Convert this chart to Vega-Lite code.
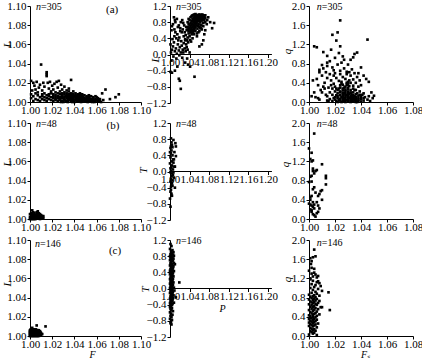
{
"$schema":"https://vega.github.io/schema/vega-lite/v6.json",
"padding":{"left":1,"top":0,"right":0,"bottom":0},
"config":{
 "font":"Liberation Serif",
 "view":{"stroke":null},
 "axis":{"labelFont":"Liberation Serif","labelFontSize":11,"labelColor":"black","domainColor":"black","tickColor":"black","tickSize":3,"labelPadding":2,"grid":false,"labelOverlap":false,"labelFlush":false,"labelBound":false,"titleFont":"Liberation Serif","titleFontSize":11,"titleFontStyle":"italic","titleFontWeight":"normal","titleColor":"black","titleBaseline":"middle"},
 "axisX":{"labelPadding":-1,"titleFontSize":10},
 "axisY":{"labelPadding":1},
 "text":{"font":"Liberation Serif","color":"black"}
},
"datasets":{
"a":[
{"F":1.001,"L":1.022,"P":1.040,"T":0.72,"S":1.018,"q":0.02},
{"F":1.003,"L":1.020,"P":1.040,"T":0.85,"S":1.018,"q":0.15},
{"F":1.004,"L":1.017,"P":1.040,"T":0.66,"S":1.018,"q":0.28},
{"F":1.006,"L":1.021,"P":1.042,"T":0.78,"S":1.020,"q":0.05},
{"F":1.008,"L":1.015,"P":1.042,"T":0.92,"S":1.020,"q":0.10},
{"F":1.002,"L":1.012,"P":1.042,"T":0.70,"S":1.020,"q":0.22},
{"F":1.005,"L":1.013,"P":1.042,"T":0.60,"S":1.020,"q":0.32},
{"F":1.009,"L":1.018,"P":1.044,"T":0.83,"S":1.022,"q":0.00},
{"F":1.010,"L":1.039,"P":1.044,"T":0.95,"S":1.022,"q":0.08},
{"F":1.011,"L":1.012,"P":1.044,"T":0.74,"S":1.022,"q":0.18},
{"F":1.013,"L":1.016,"P":1.044,"T":0.65,"S":1.022,"q":0.25},
{"F":1.015,"L":1.031,"P":1.046,"T":0.88,"S":1.022,"q":0.12},
{"F":1.015,"L":1.029,"P":1.046,"T":0.76,"S":1.024,"q":0.03},
{"F":1.015,"L":1.027,"P":1.046,"T":0.97,"S":1.024,"q":0.14},
{"F":1.016,"L":1.020,"P":1.046,"T":0.69,"S":1.024,"q":0.20},
{"F":1.017,"L":1.014,"P":1.046,"T":0.82,"S":1.024,"q":0.30},
{"F":1.018,"L":1.021,"P":1.048,"T":0.91,"S":1.024,"q":0.07},
{"F":1.019,"L":1.011,"P":1.048,"T":0.80,"S":1.024,"q":0.35},
{"F":1.020,"L":1.017,"P":1.048,"T":0.86,"S":1.026,"q":0.01},
{"F":1.021,"L":1.013,"P":1.048,"T":0.72,"S":1.026,"q":0.09},
{"F":1.022,"L":1.019,"P":1.048,"T":0.98,"S":1.026,"q":0.16},
{"F":1.024,"L":1.021,"P":1.050,"T":0.94,"S":1.026,"q":0.24},
{"F":1.025,"L":1.015,"P":1.050,"T":0.84,"S":1.026,"q":0.05},
{"F":1.026,"L":1.022,"P":1.050,"T":0.89,"S":1.026,"q":0.28},
{"F":1.027,"L":1.011,"P":1.050,"T":0.77,"S":1.026,"q":0.12},
{"F":1.028,"L":1.018,"P":1.050,"T":0.99,"S":1.028,"q":0.04},
{"F":1.029,"L":1.013,"P":1.050,"T":0.70,"S":1.028,"q":0.11},
{"F":1.031,"L":1.016,"P":1.052,"T":0.87,"S":1.028,"q":0.19},
{"F":1.033,"L":1.012,"P":1.052,"T":0.96,"S":1.028,"q":0.00},
{"F":1.035,"L":1.014,"P":1.052,"T":0.81,"S":1.028,"q":0.26},
{"F":1.037,"L":1.023,"P":1.052,"T":0.92,"S":1.028,"q":0.08},
{"F":1.039,"L":1.011,"P":1.052,"T":0.75,"S":1.028,"q":0.15},
{"F":1.012,"L":1.020,"P":1.052,"T":1.00,"S":1.030,"q":0.02},
{"F":1.007,"L":1.010,"P":1.054,"T":0.90,"S":1.030,"q":0.13},
{"F":1.023,"L":1.010,"P":1.054,"T":0.83,"S":1.030,"q":0.06},
{"F":1.080,"L":1.008,"P":1.054,"T":0.97,"S":1.030,"q":0.21},
{"F":1.077,"L":1.005,"P":1.054,"T":0.79,"S":1.030,"q":0.10},
{"F":1.068,"L":1.013,"P":1.054,"T":0.93,"S":1.030,"q":0.30},
{"F":1.072,"L":1.003,"P":1.056,"T":0.95,"S":1.030,"q":0.17},
{"F":1.065,"L":1.009,"P":1.056,"T":0.86,"S":1.032,"q":0.05},
{"F":1.001,"L":1.004,"P":1.056,"T":0.91,"S":1.032,"q":0.00},
{"F":1.001,"L":1.008,"P":1.056,"T":0.82,"S":1.032,"q":0.12},
{"F":1.003,"L":1.001,"P":1.056,"T":0.98,"S":1.032,"q":0.18},
{"F":1.003,"L":1.006,"P":1.056,"T":0.88,"S":1.032,"q":0.08},
{"F":1.005,"L":1.003,"P":1.058,"T":0.92,"S":1.032,"q":0.25},
{"F":1.005,"L":1.009,"P":1.058,"T":0.97,"S":1.032,"q":0.03},
{"F":1.007,"L":1.002,"P":1.058,"T":0.85,"S":1.034,"q":0.01},
{"F":1.007,"L":1.007,"P":1.058,"T":0.89,"S":1.034,"q":0.09},
{"F":1.009,"L":1.005,"P":1.058,"T":0.94,"S":1.034,"q":0.14},
{"F":1.009,"L":1.001,"P":1.060,"T":0.96,"S":1.034,"q":0.06},
{"F":1.011,"L":1.008,"P":1.060,"T":0.90,"S":1.034,"q":0.20},
{"F":1.011,"L":1.003,"P":1.060,"T":0.87,"S":1.034,"q":0.11},
{"F":1.011,"L":1.006,"P":1.060,"T":0.99,"S":1.036,"q":0.04},
{"F":1.013,"L":1.002,"P":1.060,"T":0.93,"S":1.036,"q":0.00},
{"F":1.013,"L":1.009,"P":1.062,"T":0.94,"S":1.036,"q":0.10},
{"F":1.013,"L":1.005,"P":1.062,"T":0.88,"S":1.036,"q":0.16},
{"F":1.015,"L":1.004,"P":1.062,"T":0.98,"S":1.036,"q":0.07},
{"F":1.015,"L":1.007,"P":1.062,"T":0.91,"S":1.038,"q":0.02},
{"F":1.015,"L":1.001,"P":1.064,"T":0.97,"S":1.038,"q":0.08},
{"F":1.017,"L":1.003,"P":1.064,"T":0.92,"S":1.038,"q":0.13},
{"F":1.017,"L":1.008,"P":1.064,"T":0.86,"S":1.038,"q":0.05},
{"F":1.017,"L":1.006,"P":1.064,"T":0.95,"S":1.040,"q":0.01},
{"F":1.019,"L":1.005,"P":1.066,"T":0.90,"S":1.040,"q":0.06},
{"F":1.019,"L":1.002,"P":1.066,"T":0.96,"S":1.040,"q":0.10},
{"F":1.019,"L":1.009,"P":1.066,"T":0.93,"S":1.042,"q":0.03},
{"F":1.021,"L":1.001,"P":1.066,"T":0.99,"S":1.042,"q":0.08},
{"F":1.021,"L":1.006,"P":1.068,"T":0.94,"S":1.016,"q":0.06},
{"F":1.021,"L":1.004,"P":1.068,"T":0.88,"S":1.016,"q":0.20},
{"F":1.021,"L":1.008,"P":1.068,"T":0.97,"S":1.014,"q":0.03},
{"F":1.023,"L":1.003,"P":1.070,"T":0.92,"S":1.014,"q":0.12},
{"F":1.023,"L":1.007,"P":1.070,"T":0.95,"S":1.025,"q":0.42},
{"F":1.023,"L":1.005,"P":1.072,"T":0.90,"S":1.025,"q":0.38},
{"F":1.023,"L":1.002,"P":1.072,"T":0.97,"S":1.029,"q":0.36},
{"F":1.025,"L":1.009,"P":1.036,"T":0.68,"S":1.029,"q":0.40},
{"F":1.025,"L":1.004,"P":1.036,"T":0.80,"S":1.031,"q":0.33},
{"F":1.025,"L":1.001,"P":1.036,"T":0.62,"S":1.031,"q":0.45},
{"F":1.025,"L":1.006,"P":1.038,"T":0.75,"S":1.027,"q":0.02},
{"F":1.027,"L":1.002,"P":1.038,"T":0.58,"S":1.027,"q":0.18},
{"F":1.027,"L":1.008,"P":1.038,"T":0.88,"S":1.033,"q":0.15},
{"F":1.027,"L":1.005,"P":1.030,"T":0.55,"S":1.033,"q":0.05},
{"F":1.027,"L":1.003,"P":1.032,"T":0.48,"S":1.035,"q":0.03},
{"F":1.029,"L":1.007,"P":1.034,"T":0.60,"S":1.035,"q":0.25},
{"F":1.029,"L":1.004,"P":1.036,"T":0.42,"S":1.003,"q":0.45},
{"F":1.029,"L":1.001,"P":1.038,"T":0.52,"S":1.005,"q":0.10},
{"F":1.029,"L":1.009,"P":1.040,"T":0.45,"S":1.006,"q":0.48},
{"F":1.029,"L":1.006,"P":1.042,"T":0.55,"S":1.007,"q":0.35},
{"F":1.031,"L":1.003,"P":1.044,"T":0.50,"S":1.008,"q":0.62},
{"F":1.031,"L":1.005,"P":1.035,"T":0.35,"S":1.009,"q":0.25},
{"F":1.031,"L":1.008,"P":1.031,"T":0.38,"S":1.010,"q":0.55},
{"F":1.031,"L":1.002,"P":1.028,"T":0.45,"S":1.011,"q":0.70},
{"F":1.031,"L":1.010,"P":1.026,"T":0.62,"S":1.012,"q":0.40},
{"F":1.033,"L":1.006,"P":1.033,"T":0.68,"S":1.013,"q":0.15},
{"F":1.033,"L":1.001,"P":1.029,"T":0.72,"S":1.014,"q":0.75},
{"F":1.033,"L":1.004,"P":1.027,"T":0.78,"S":1.015,"q":0.30},
{"F":1.033,"L":1.009,"P":1.025,"T":0.85,"S":1.016,"q":0.58},
{"F":1.033,"L":1.007,"P":1.022,"T":0.80,"S":1.017,"q":0.45},
{"F":1.035,"L":1.002,"P":1.037,"T":0.30,"S":1.018,"q":0.72},
{"F":1.035,"L":1.005,"P":1.041,"T":0.36,"S":1.019,"q":0.38},
{"F":1.035,"L":1.008,"P":1.046,"T":0.40,"S":1.020,"q":0.60},
{"F":1.035,"L":1.003,"P":1.048,"T":0.58,"S":1.021,"q":0.50},
{"F":1.035,"L":1.006,"P":1.050,"T":0.62,"S":1.022,"q":0.78},
{"F":1.035,"L":1.011,"P":1.047,"T":0.52,"S":1.023,"q":0.44},
{"F":1.037,"L":1.004,"P":1.024,"T":0.55,"S":1.024,"q":0.65},
{"F":1.037,"L":1.001,"P":1.021,"T":0.65,"S":1.026,"q":0.52},
{"F":1.037,"L":1.007,"P":1.018,"T":0.72,"S":1.027,"q":0.70},
{"F":1.037,"L":1.009,"P":1.039,"T":0.64,"S":1.028,"q":0.48},
{"F":1.037,"L":1.005,"P":1.043,"T":0.32,"S":1.029,"q":0.58},
{"F":1.037,"L":1.003,"P":1.033,"T":0.25,"S":1.030,"q":0.42},
{"F":1.039,"L":1.006,"P":1.045,"T":0.60,"S":1.031,"q":0.62},
{"F":1.039,"L":1.002,"P":1.002,"T":0.05,"S":1.032,"q":0.55},
{"F":1.039,"L":1.008,"P":1.004,"T":0.12,"S":1.033,"q":0.68},
{"F":1.039,"L":1.004,"P":1.006,"T":0.20,"S":1.034,"q":0.47},
{"F":1.039,"L":1.001,"P":1.008,"T":0.30,"S":1.035,"q":0.60},
{"F":1.041,"L":1.003,"P":1.010,"T":0.08,"S":1.036,"q":0.40},
{"F":1.041,"L":1.005,"P":1.012,"T":0.15,"S":1.037,"q":0.52},
{"F":1.041,"L":1.009,"P":1.014,"T":0.02,"S":1.038,"q":0.32},
{"F":1.041,"L":1.007,"P":1.016,"T":0.25,"S":1.039,"q":0.22},
{"F":1.041,"L":1.002,"P":1.018,"T":0.10,"S":1.040,"q":0.35},
{"F":1.041,"L":1.006,"P":1.020,"T":0.18,"S":1.041,"q":0.15},
{"F":1.043,"L":1.001,"P":1.022,"T":0.05,"S":1.043,"q":0.10},
{"F":1.043,"L":1.004,"P":1.024,"T":0.22,"S":1.044,"q":0.48},
{"F":1.043,"L":1.008,"P":1.026,"T":0.12,"S":1.045,"q":0.05},
{"F":1.043,"L":1.003,"P":1.028,"T":0.28,"S":1.046,"q":0.12},
{"F":1.043,"L":1.006,"P":1.030,"T":0.15,"S":1.048,"q":0.20},
{"F":1.045,"L":1.005,"P":1.032,"T":0.08,"S":1.049,"q":0.08},
{"F":1.045,"L":1.002,"P":1.034,"T":0.18,"S":1.050,"q":0.13},
{"F":1.045,"L":1.007,"P":1.005,"T":0.38,"S":1.047,"q":0.02},
{"F":1.045,"L":1.004,"P":1.009,"T":0.45,"S":1.010,"q":0.20},
{"F":1.045,"L":1.009,"P":1.013,"T":0.40,"S":1.012,"q":0.28},
{"F":1.045,"L":1.001,"P":1.017,"T":0.35,"S":1.008,"q":0.05},
{"F":1.047,"L":1.003,"P":1.011,"T":0.55,"S":1.015,"q":0.02},
{"F":1.047,"L":1.006,"P":1.015,"T":0.50,"S":1.017,"q":0.35},
{"F":1.047,"L":1.001,"P":1.019,"T":0.42,"S":1.019,"q":0.55},
{"F":1.047,"L":1.005,"P":1.023,"T":0.33,"S":1.021,"q":0.28},
{"F":1.047,"L":1.008,"P":1.007,"T":-0.05,"S":1.014,"q":0.50},
{"F":1.049,"L":1.004,"P":1.013,"T":-0.10,"S":1.011,"q":0.32},
{"F":1.049,"L":1.002,"P":1.019,"T":-0.02,"S":1.004,"q":0.20},
{"F":1.049,"L":1.007,"P":1.025,"T":-0.08,"S":1.007,"q":0.08},
{"F":1.049,"L":1.003,"P":1.003,"T":-0.15,"S":1.002,"q":0.12},
{"F":1.049,"L":1.001,"P":1.009,"T":0.62,"S":1.036,"q":0.25},
{"F":1.051,"L":1.005,"P":1.021,"T":0.58,"S":1.039,"q":0.45},
{"F":1.051,"L":1.001,"P":1.001,"T":0.25,"S":1.042,"q":0.18},
{"F":1.051,"L":1.003,"P":1.016,"T":0.68,"S":1.024,"q":1.70},
{"F":1.051,"L":1.006,"P":1.027,"T":0.05,"S":1.022,"q":1.45},
{"F":1.051,"L":1.002,"P":1.031,"T":0.35,"S":1.018,"q":1.40},
{"F":1.053,"L":1.002,"P":1.006,"T":0.75,"S":1.021,"q":1.28},
{"F":1.053,"L":1.004,"P":1.011,"T":0.80,"S":1.024,"q":1.16},
{"F":1.053,"L":1.001,"P":1.004,"T":0.70,"S":1.017,"q":1.09},
{"F":1.053,"L":1.007,"P":1.014,"T":0.88,"S":1.004,"q":1.16},
{"F":1.053,"L":1.005,"P":1.008,"T":0.92,"S":1.006,"q":1.14},
{"F":1.055,"L":1.003,"P":1.010,"T":0.85,"S":1.011,"q":1.04},
{"F":1.055,"L":1.001,"P":1.003,"T":0.60,"S":1.014,"q":0.96},
{"F":1.055,"L":1.006,"P":1.036,"T":0.12,"S":1.045,"q":1.30},
{"F":1.055,"L":1.002,"P":1.040,"T":0.05,"S":1.037,"q":1.03},
{"F":1.057,"L":1.004,"P":1.010,"T":-0.40,"S":1.035,"q":1.00},
{"F":1.057,"L":1.002,"P":1.004,"T":-0.45,"S":1.034,"q":0.93},
{"F":1.057,"L":1.001,"P":1.001,"T":-0.43,"S":1.025,"q":0.82},
{"F":1.057,"L":1.005,"P":1.050,"T":-0.55,"S":1.010,"q":0.77},
{"F":1.059,"L":1.001,"P":1.037,"T":-0.25,"S":1.014,"q":0.82},
{"F":1.059,"L":1.003,"P":1.041,"T":-0.30,"S":1.008,"q":0.67},
{"F":1.059,"L":1.006,"P":1.020,"T":-0.65,"S":1.029,"q":0.63},
{"F":1.059,"L":1.002,"P":1.018,"T":-0.60,"S":1.032,"q":0.88},
{"F":1.061,"L":1.002,"P":1.022,"T":-0.85,"S":1.020,"q":0.92},
{"F":1.061,"L":1.004,"P":1.031,"T":-0.20,"S":1.016,"q":0.85},
{"F":1.061,"L":1.001,"P":1.035,"T":-0.10,"S":1.026,"q":0.95},
{"F":1.063,"L":1.003,"P":1.015,"T":-0.30,"S":1.030,"q":0.78},
{"F":1.063,"L":1.001,"P":1.082,"T":0.80,"S":1.023,"q":1.02},
{"F":1.066,"L":1.002,"P":1.086,"T":0.65,"S":1.019,"q":0.66},
{"F":1.030,"L":1.000,"P":1.078,"T":0.92,"S":1.027,"q":0.88},
{"F":1.030,"L":1.004,"P":1.075,"T":0.75,"S":1.013,"q":0.62},
{"F":1.034,"L":1.000,"P":1.072,"T":0.60,"S":1.040,"q":0.72},
{"F":1.034,"L":1.003,"P":1.065,"T":0.25,"S":1.038,"q":0.60},
{"F":1.038,"L":1.000,"P":1.060,"T":0.20,"S":1.042,"q":0.55},
{"F":1.038,"L":1.005,"P":1.068,"T":0.35,"S":1.046,"q":0.42},
{"F":1.042,"L":1.001,"P":1.055,"T":0.45,"S":1.024,"q":0.58},
{"F":1.042,"L":1.004,"P":1.058,"T":0.55,"S":1.028,"q":0.32},
{"F":1.046,"L":1.003,"P":1.062,"T":0.65,"S":1.030,"q":0.38},
{"F":1.046,"L":1.006,"P":1.076,"T":0.85,"S":1.032,"q":0.40},
{"F":1.050,"L":1.003,"P":1.070,"T":0.50,"S":1.034,"q":0.34},
{"F":1.054,"L":1.003,"P":1.090,"T":0.78,"S":1.026,"q":0.36},
{"F":1.032,"L":1.001,"P":1.050,"T":0.66,"S":1.023,"q":0.04},
{"F":1.036,"L":1.004,"P":1.052,"T":0.58,"S":1.025,"q":0.10},
{"F":1.040,"L":1.000,"P":1.054,"T":0.72,"S":1.027,"q":0.06},
{"F":1.044,"L":1.002,"P":1.056,"T":0.64,"S":1.029,"q":0.14},
{"F":1.048,"L":1.005,"P":1.058,"T":0.76,"S":1.031,"q":0.09},
{"F":1.052,"L":1.000,"P":1.060,"T":0.68,"S":1.033,"q":0.02},
{"F":1.056,"L":1.003,"P":1.062,"T":0.80,"S":1.035,"q":0.12},
{"F":1.058,"L":1.000,"P":1.064,"T":0.72,"S":1.024,"q":0.22},
{"F":1.060,"L":1.005,"P":1.066,"T":0.84,"S":1.028,"q":0.23},
{"F":1.044,"L":1.008,"P":1.068,"T":0.78,"S":1.030,"q":0.26},
{"F":1.040,"L":1.006,"P":1.070,"T":0.86,"S":1.032,"q":0.20},
{"F":1.036,"L":1.002,"P":1.055,"T":0.52,"S":1.026,"q":0.19},
{"F":1.048,"L":1.002,"P":1.060,"T":0.58,"S":1.021,"q":0.14},
{"F":1.052,"L":1.004,"P":1.065,"T":0.62,"S":1.019,"q":0.08},
{"F":1.042,"L":1.003,"P":1.068,"T":0.70,"S":1.037,"q":0.18},
{"F":1.038,"L":1.007,"P":1.072,"T":0.80,"S":1.034,"q":0.28},
{"F":1.034,"L":1.005,"P":1.048,"T":0.64,"S":1.029,"q":0.04},
{"F":1.046,"L":1.000,"P":1.046,"T":0.56,"S":1.031,"q":0.17},
{"F":1.050,"L":1.001,"P":1.044,"T":0.58,"S":1.023,"q":0.28},
{"F":1.054,"L":1.006,"P":1.052,"T":0.68,"S":1.027,"q":0.30},
{"F":1.028,"L":1.000,"P":1.057,"T":0.70,"S":1.025,"q":0.00},
{"F":1.026,"L":1.004,"P":1.062,"T":0.74,"S":1.033,"q":0.10},
{"F":1.032,"L":1.006,"P":1.059,"T":0.83,"S":1.035,"q":0.07},
{"F":1.056,"L":1.000,"P":1.063,"T":0.66,"S":1.037,"q":0.00},
{"F":1.062,"L":1.003,"P":1.053,"T":0.78,"S":1.039,"q":0.15},
{"F":1.064,"L":1.000,"P":1.049,"T":0.50,"S":1.021,"q":0.02}
],
"b":[
{"F":1.001,"L":1.001,"P":1.002,"T":0.82,"S":1.004,"q":1.78},
{"F":1.002,"L":1.003,"P":1.007,"T":0.78,"S":1.000,"q":1.47},
{"F":1.003,"L":1.000,"P":1.004,"T":0.66,"S":1.002,"q":1.38},
{"F":1.004,"L":1.002,"P":1.011,"T":0.70,"S":1.001,"q":1.25},
{"F":1.005,"L":1.004,"P":1.012,"T":0.62,"S":1.003,"q":1.22},
{"F":1.006,"L":1.001,"P":1.001,"T":0.58,"S":1.002,"q":1.20},
{"F":1.007,"L":1.003,"P":1.003,"T":0.52,"S":1.010,"q":1.14},
{"F":1.008,"L":1.006,"P":1.002,"T":0.45,"S":1.003,"q":1.05},
{"F":1.009,"L":1.002,"P":1.005,"T":0.40,"S":1.005,"q":1.00},
{"F":1.010,"L":1.004,"P":1.001,"T":0.35,"S":1.004,"q":0.95},
{"F":1.011,"L":1.001,"P":1.012,"T":0.38,"S":1.002,"q":0.90},
{"F":1.012,"L":1.003,"P":1.008,"T":0.30,"S":1.001,"q":0.88},
{"F":1.000,"L":1.005,"P":1.007,"T":0.22,"S":1.013,"q":0.90},
{"F":1.001,"L":1.003,"P":1.004,"T":0.15,"S":1.013,"q":0.85},
{"F":1.002,"L":1.000,"P":1.003,"T":0.10,"S":1.000,"q":0.77},
{"F":1.003,"L":1.002,"P":1.009,"T":0.12,"S":1.002,"q":0.78},
{"F":1.004,"L":1.004,"P":1.010,"T":0.12,"S":1.013,"q":0.72},
{"F":1.005,"L":1.001,"P":1.006,"T":0.05,"S":1.004,"q":0.66},
{"F":1.006,"L":1.007,"P":1.002,"T":0.02,"S":1.010,"q":0.60},
{"F":1.007,"L":1.005,"P":1.001,"T":-0.02,"S":1.009,"q":0.58},
{"F":1.008,"L":1.002,"P":1.004,"T":-0.05,"S":1.003,"q":0.62},
{"F":1.009,"L":1.000,"P":1.006,"T":-0.08,"S":1.008,"q":0.52},
{"F":1.010,"L":1.001,"P":1.003,"T":-0.12,"S":1.010,"q":0.40},
{"F":1.000,"L":1.002,"P":1.008,"T":-0.15,"S":1.002,"q":0.48},
{"F":1.001,"L":1.006,"P":1.002,"T":-0.18,"S":1.001,"q":0.45},
{"F":1.002,"L":1.002,"P":1.005,"T":-0.22,"S":1.003,"q":0.35},
{"F":1.003,"L":1.004,"P":1.001,"T":-0.25,"S":1.000,"q":0.32},
{"F":1.004,"L":1.000,"P":1.004,"T":-0.28,"S":1.001,"q":0.30},
{"F":1.005,"L":1.003,"P":1.003,"T":-0.32,"S":1.002,"q":0.28},
{"F":1.006,"L":1.005,"P":1.010,"T":-0.40,"S":1.003,"q":0.25},
{"F":1.007,"L":1.008,"P":1.002,"T":-0.45,"S":1.004,"q":0.22},
{"F":1.008,"L":1.001,"P":1.001,"T":-0.50,"S":1.001,"q":0.20},
{"F":1.009,"L":1.003,"P":1.003,"T":-0.55,"S":1.002,"q":0.18},
{"F":1.002,"L":1.009,"P":1.000,"T":-0.67,"S":1.004,"q":0.30},
{"F":1.003,"L":1.007,"P":1.001,"T":-0.87,"S":1.007,"q":0.28},
{"F":1.000,"L":1.000,"P":1.002,"T":0.62,"S":1.008,"q":0.22},
{"F":1.001,"L":1.000,"P":1.005,"T":0.60,"S":1.007,"q":0.15},
{"F":1.004,"L":1.006,"P":1.000,"T":0.48,"S":1.006,"q":0.12},
{"F":1.006,"L":1.002,"P":1.006,"T":0.30,"S":1.004,"q":0.08},
{"F":1.007,"L":1.001,"P":1.004,"T":0.25,"S":1.005,"q":0.05},
{"F":1.008,"L":1.004,"P":1.001,"T":0.08,"S":1.003,"q":0.10},
{"F":1.010,"L":1.002,"P":1.007,"T":-0.02,"S":1.007,"q":0.48},
{"F":1.011,"L":1.003,"P":1.005,"T":-0.35,"S":1.005,"q":0.55},
{"F":1.005,"L":1.000,"P":1.002,"T":-0.38,"S":1.006,"q":1.02},
{"F":1.003,"L":1.001,"P":1.000,"T":0.20,"S":1.003,"q":1.00},
{"F":1.002,"L":1.005,"P":1.009,"T":0.48,"S":1.001,"q":0.40},
{"F":1.009,"L":1.005,"P":1.003,"T":0.72,"S":1.006,"q":0.35},
{"F":1.012,"L":1.001,"P":1.004,"T":-0.60,"S":1.002,"q":0.15}
],
"c":[
{"F":1.000,"L":1.000,"P":1.001,"T":1.10,"S":1.004,"q":1.80},
{"F":1.001,"L":1.002,"P":1.003,"T":1.05,"S":1.003,"q":1.64},
{"F":1.002,"L":1.004,"P":1.000,"T":0.98,"S":1.001,"q":1.62},
{"F":1.003,"L":1.006,"P":1.005,"T":0.95,"S":1.002,"q":1.56},
{"F":1.004,"L":1.001,"P":1.002,"T":0.92,"S":1.0015,"q":1.50},
{"F":1.005,"L":1.003,"P":1.007,"T":0.90,"S":1.005,"q":1.66},
{"F":1.006,"L":1.005,"P":1.004,"T":0.88,"S":1.000,"q":1.36},
{"F":1.007,"L":1.000,"P":1.001,"T":0.85,"S":1.002,"q":1.30},
{"F":1.008,"L":1.002,"P":1.006,"T":0.84,"S":1.005,"q":1.28},
{"F":1.009,"L":1.004,"P":1.003,"T":0.82,"S":1.003,"q":1.24},
{"F":1.000,"L":1.006,"P":1.008,"T":0.81,"S":1.006,"q":1.22},
{"F":1.001,"L":1.001,"P":1.000,"T":0.80,"S":1.001,"q":1.20},
{"F":1.002,"L":1.003,"P":1.002,"T":0.78,"S":1.004,"q":1.32},
{"F":1.003,"L":1.005,"P":1.005,"T":0.77,"S":1.007,"q":1.25},
{"F":1.004,"L":1.000,"P":1.001,"T":0.75,"S":1.002,"q":1.42},
{"F":1.005,"L":1.002,"P":1.007,"T":0.74,"S":1.004,"q":1.40},
{"F":1.006,"L":1.004,"P":1.003,"T":0.72,"S":1.001,"q":1.18},
{"F":1.007,"L":1.006,"P":1.000,"T":0.70,"S":1.003,"q":1.15},
{"F":1.008,"L":1.001,"P":1.006,"T":0.69,"S":1.006,"q":1.12},
{"F":1.009,"L":1.003,"P":1.004,"T":0.67,"S":1.008,"q":1.10},
{"F":1.000,"L":1.005,"P":1.002,"T":0.65,"S":1.002,"q":1.08},
{"F":1.001,"L":1.000,"P":1.008,"T":0.63,"S":1.005,"q":1.06},
{"F":1.002,"L":1.002,"P":1.001,"T":0.62,"S":1.009,"q":1.04},
{"F":1.003,"L":1.004,"P":1.005,"T":0.60,"S":1.004,"q":1.02},
{"F":1.004,"L":1.006,"P":1.003,"T":0.58,"S":1.001,"q":1.00},
{"F":1.005,"L":1.001,"P":1.000,"T":0.57,"S":1.007,"q":0.98},
{"F":1.006,"L":1.003,"P":1.007,"T":0.55,"S":1.003,"q":0.96},
{"F":1.007,"L":1.005,"P":1.002,"T":0.53,"S":1.010,"q":0.94},
{"F":1.008,"L":1.000,"P":1.004,"T":0.52,"S":1.005,"q":0.92},
{"F":1.009,"L":1.002,"P":1.006,"T":0.50,"S":1.002,"q":0.90},
{"F":1.000,"L":1.004,"P":1.001,"T":0.48,"S":1.006,"q":0.88},
{"F":1.001,"L":1.006,"P":1.003,"T":0.47,"S":1.000,"q":0.86},
{"F":1.002,"L":1.001,"P":1.005,"T":0.45,"S":1.004,"q":0.85},
{"F":1.003,"L":1.003,"P":1.000,"T":0.44,"S":1.008,"q":0.84},
{"F":1.004,"L":1.005,"P":1.008,"T":0.43,"S":1.003,"q":0.83},
{"F":1.005,"L":1.000,"P":1.002,"T":0.42,"S":1.001,"q":0.82},
{"F":1.006,"L":1.002,"P":1.004,"T":0.40,"S":1.005,"q":0.81},
{"F":1.007,"L":1.004,"P":1.001,"T":0.39,"S":1.007,"q":1.14},
{"F":1.008,"L":1.006,"P":1.006,"T":0.38,"S":1.002,"q":0.79},
{"F":1.000,"L":1.001,"P":1.003,"T":0.36,"S":1.004,"q":0.78},
{"F":1.001,"L":1.003,"P":1.000,"T":0.35,"S":1.006,"q":0.77},
{"F":1.002,"L":1.005,"P":1.005,"T":0.33,"S":1.000,"q":0.76},
{"F":1.003,"L":1.000,"P":1.002,"T":0.32,"S":1.003,"q":0.75},
{"F":1.004,"L":1.002,"P":1.007,"T":0.30,"S":1.005,"q":0.74},
{"F":1.005,"L":1.004,"P":1.004,"T":0.29,"S":1.008,"q":0.73},
{"F":1.006,"L":1.006,"P":1.001,"T":0.27,"S":1.001,"q":0.72},
{"F":1.007,"L":1.001,"P":1.003,"T":0.26,"S":1.004,"q":0.71},
{"F":1.008,"L":1.003,"P":1.006,"T":0.24,"S":1.002,"q":0.70},
{"F":1.000,"L":1.003,"P":1.000,"T":0.23,"S":1.007,"q":0.69},
{"F":1.001,"L":1.005,"P":1.002,"T":0.21,"S":1.003,"q":0.68},
{"F":1.002,"L":1.000,"P":1.005,"T":0.20,"S":1.005,"q":0.67},
{"F":1.003,"L":1.002,"P":1.004,"T":0.18,"S":1.000,"q":0.66},
{"F":1.004,"L":1.004,"P":1.001,"T":0.17,"S":1.006,"q":0.65},
{"F":1.005,"L":1.006,"P":1.007,"T":0.15,"S":1.002,"q":0.64},
{"F":1.006,"L":1.001,"P":1.003,"T":0.14,"S":1.004,"q":0.62},
{"F":1.007,"L":1.003,"P":1.000,"T":0.12,"S":1.001,"q":0.61},
{"F":1.008,"L":1.005,"P":1.005,"T":0.11,"S":1.003,"q":0.60},
{"F":1.000,"L":1.002,"P":1.002,"T":0.09,"S":1.009,"q":0.60},
{"F":1.001,"L":1.004,"P":1.006,"T":0.08,"S":1.005,"q":0.58},
{"F":1.002,"L":1.006,"P":1.004,"T":0.06,"S":1.002,"q":0.57},
{"F":1.003,"L":1.001,"P":1.001,"T":0.05,"S":1.007,"q":0.56},
{"F":1.004,"L":1.003,"P":1.003,"T":0.03,"S":1.004,"q":0.55},
{"F":1.005,"L":1.005,"P":1.008,"T":0.02,"S":1.000,"q":0.54},
{"F":1.006,"L":1.000,"P":1.000,"T":0.01,"S":1.003,"q":0.52},
{"F":1.007,"L":1.002,"P":1.005,"T":0.00,"S":1.006,"q":0.51},
{"F":1.008,"L":1.004,"P":1.002,"T":-0.02,"S":1.001,"q":0.50},
{"F":1.010,"L":1.001,"P":1.004,"T":-0.04,"S":1.005,"q":0.48},
{"F":1.010,"L":1.003,"P":1.001,"T":-0.06,"S":1.002,"q":0.47},
{"F":1.009,"L":1.005,"P":1.006,"T":-0.08,"S":1.004,"q":0.46},
{"F":1.006,"L":1.011,"P":1.003,"T":-0.10,"S":1.008,"q":0.45},
{"F":1.014,"L":1.010,"P":1.000,"T":-0.11,"S":1.003,"q":0.44},
{"F":1.011,"L":1.002,"P":1.005,"T":-0.13,"S":1.000,"q":0.43},
{"F":1.001,"L":1.007,"P":1.002,"T":-0.15,"S":1.006,"q":0.42},
{"F":1.003,"L":1.007,"P":1.007,"T":-0.17,"S":1.001,"q":0.41},
{"F":1.005,"L":1.007,"P":1.004,"T":-0.18,"S":1.003,"q":0.40},
{"F":1.002,"L":1.0085,"P":1.001,"T":-0.20,"S":1.005,"q":0.39},
{"F":1.0005,"L":1.0015,"P":1.003,"T":-0.22,"S":1.001,"q":0.38},
{"F":1.0015,"L":1.0035,"P":1.006,"T":-0.24,"S":1.002,"q":0.37},
{"F":1.0025,"L":1.0055,"P":1.000,"T":-0.25,"S":1.004,"q":0.36},
{"F":1.0035,"L":1.0005,"P":1.002,"T":-0.27,"S":1.000,"q":0.35},
{"F":1.0045,"L":1.0025,"P":1.005,"T":-0.29,"S":1.006,"q":0.34},
{"F":1.0055,"L":1.0045,"P":1.004,"T":-0.30,"S":1.003,"q":0.33},
{"F":1.0065,"L":1.0015,"P":1.001,"T":-0.32,"S":1.001,"q":0.32},
{"F":1.0075,"L":1.0035,"P":1.003,"T":-0.34,"S":1.005,"q":0.31},
{"F":1.0085,"L":1.0025,"P":1.008,"T":-0.35,"S":1.002,"q":0.30},
{"F":1.0005,"L":1.0045,"P":1.000,"T":-0.36,"S":1.004,"q":0.29},
{"F":1.0015,"L":1.0005,"P":1.002,"T":-0.37,"S":1.000,"q":0.28},
{"F":1.0025,"L":1.0025,"P":1.005,"T":-0.38,"S":1.003,"q":0.27},
{"F":1.0035,"L":1.0045,"P":1.001,"T":-0.39,"S":1.007,"q":0.26},
{"F":1.0045,"L":1.0065,"P":1.004,"T":-0.40,"S":1.001,"q":0.25},
{"F":1.0055,"L":1.0005,"P":1.002,"T":-0.43,"S":1.005,"q":0.24},
{"F":1.0065,"L":1.0035,"P":1.000,"T":-0.46,"S":1.002,"q":0.23},
{"F":1.0075,"L":1.0055,"P":1.004,"T":-0.48,"S":1.004,"q":0.22},
{"F":1.0005,"L":1.0065,"P":1.001,"T":-0.51,"S":1.000,"q":0.21},
{"F":1.0015,"L":1.0055,"P":1.003,"T":-0.54,"S":1.003,"q":0.20},
{"F":1.0025,"L":1.0015,"P":1.006,"T":-0.56,"S":1.006,"q":0.18},
{"F":1.0035,"L":1.0035,"P":1.000,"T":-0.59,"S":1.001,"q":0.17},
{"F":1.0045,"L":1.0015,"P":1.002,"T":-0.62,"S":1.002,"q":0.15},
{"F":1.0055,"L":1.0025,"P":1.005,"T":-0.65,"S":1.004,"q":0.14},
{"F":1.0065,"L":1.0055,"P":1.001,"T":-0.68,"S":1.003,"q":0.12},
{"F":1.0075,"L":1.0005,"P":1.003,"T":-0.71,"S":1.005,"q":0.11},
{"F":1.0085,"L":1.0045,"P":1.000,"T":-0.75,"S":1.001,"q":0.10},
{"F":1.0095,"L":1.0015,"P":1.004,"T":-0.78,"S":1.002,"q":0.08},
{"F":1.0015,"L":1.0025,"P":1.002,"T":-0.82,"S":1.004,"q":0.07},
{"F":1.0035,"L":1.0065,"P":1.001,"T":-0.86,"S":1.003,"q":0.05},
{"F":1.0055,"L":1.0065,"P":1.003,"T":-0.89,"S":1.000,"q":0.03},
{"F":1.0045,"L":1.0045,"P":1.019,"T":0.15,"S":1.006,"q":0.02},
{"F":1.0025,"L":1.0045,"P":1.012,"T":-0.22,"S":1.015,"q":0.91},
{"F":1.0065,"L":1.0045,"P":1.010,"T":0.60,"S":1.016,"q":0.54},
{"F":1.0095,"L":1.0035,"P":1.009,"T":-0.05,"S":1.010,"q":0.60}
]
},
"concat":[
{"width":111,"height":96,"data":{"name":"a"},"layer":[
 {"mark":{"type":"square","size":7,"color":"black","opacity":1},"encoding":{
  "x":{"field":"F","type":"quantitative","scale":{"domain":[1,1.1],"nice":false,"zero":false},"axis":{"values":[1,1.02,1.04,1.06,1.08,1.1],"tickCount":20,"format":".2f","labelOverlap":false,"title":null}},
  "y":{"field":"L","type":"quantitative","scale":{"domain":[1,1.1],"nice":false,"zero":false},"axis":{"values":[1,1.02,1.04,1.06,1.08,1.1],"tickCount":20,"format":".2f","labelOverlap":false,"title":"L","titleX":-23,"titleY":38}}}},
 {"data":{"values":[{}]},"mark":{"type":"text","fontStyle":"italic","fontSize":10,"align":"left","baseline":"middle","dy":1},"encoding":{"x":{"datum":1.0054},"y":{"datum":1.1},"text":{"value":"n"}}},
 {"data":{"values":[{}]},"mark":{"type":"text","fontSize":10,"align":"left","baseline":"middle","dx":5,"dy":1},"encoding":{"x":{"datum":1.0054},"y":{"datum":1.1},"text":{"value":"=305"}}},
 {"data":{"values":[{}]},"mark":{"type":"text","fontSize":11,"align":"center","baseline":"middle"},"encoding":{"x":{"datum":1.074},"y":{"datum":1.096},"text":{"value":"(a)"}}}
]},
{"width":110,"height":97,"data":{"name":"a"},"layer":[
 {"data":{"values":[{}]},"mark":{"type":"rule","color":"black","strokeWidth":1},"encoding":{"x":{"datum":1},"x2":{"datum":1.208},"y":{"datum":0}}},
 {"mark":{"type":"square","size":7,"color":"black","opacity":1},"encoding":{
  "x":{"field":"P","type":"quantitative","scale":{"domain":[1,1.2245],"nice":false,"zero":false},"axis":{"values":[1,1.04,1.08,1.12,1.16,1.2],"tickCount":20,"format":".2f","labelOverlap":false,"title":null,"offset":-48.5,"domain":false}},
  "y":{"field":"T","type":"quantitative","scale":{"domain":[-1.2,1.2],"nice":false,"zero":false},"axis":{"values":[-1.2,-0.8,-0.4,0,0.4,0.8,1.2],"tickCount":20,"format":".1f","labelOverlap":false,"title":"L","titleX":-15,"titleY":53}}}},
 {"data":{"values":[{}]},"mark":{"type":"text","fontStyle":"italic","fontSize":10,"align":"left","baseline":"middle","dy":1},"encoding":{"x":{"datum":1.012},"y":{"datum":1.2},"text":{"value":"n"}}},
 {"data":{"values":[{}]},"mark":{"type":"text","fontSize":10,"align":"left","baseline":"middle","dx":5,"dy":1},"encoding":{"x":{"datum":1.012},"y":{"datum":1.2},"text":{"value":"=305"}}}
]},
{"width":104,"height":96,"data":{"name":"a"},"layer":[
 {"mark":{"type":"square","size":7,"color":"black","opacity":1},"encoding":{
  "x":{"field":"S","type":"quantitative","scale":{"domain":[1,1.08],"nice":false,"zero":false},"axis":{"values":[1,1.02,1.04,1.06,1.08],"tickCount":20,"format":".2f","labelOverlap":false,"title":null}},
  "y":{"field":"q","type":"quantitative","scale":{"domain":[0,2],"nice":false,"zero":false},"axis":{"values":[0,0.4,0.8,1.2,1.6,2],"tickCount":20,"format":".1f","labelOverlap":false,"title":"q","titleX":-22,"titleY":45}}}},
 {"data":{"values":[{}]},"mark":{"type":"text","fontStyle":"italic","fontSize":10,"align":"left","baseline":"middle","dy":1},"encoding":{"x":{"datum":1.006},"y":{"datum":2},"text":{"value":"n"}}},
 {"data":{"values":[{}]},"mark":{"type":"text","fontSize":10,"align":"left","baseline":"middle","dx":5,"dy":1},"encoding":{"x":{"datum":1.006},"y":{"datum":2},"text":{"value":"=305"}}}
]},
{"width":111,"height":96,"data":{"name":"b"},"layer":[
 {"mark":{"type":"square","size":7,"color":"black","opacity":1},"encoding":{
  "x":{"field":"F","type":"quantitative","scale":{"domain":[1,1.1],"nice":false,"zero":false},"axis":{"values":[1,1.02,1.04,1.06,1.08,1.1],"tickCount":20,"format":".2f","labelOverlap":false,"title":null}},
  "y":{"field":"L","type":"quantitative","scale":{"domain":[1,1.1],"nice":false,"zero":false},"axis":{"values":[1,1.02,1.04,1.06,1.08,1.1],"tickCount":20,"format":".2f","labelOverlap":false,"title":"L","titleX":-23,"titleY":40}}}},
 {"data":{"values":[{}]},"mark":{"type":"text","fontStyle":"italic","fontSize":10,"align":"left","baseline":"middle","dy":1},"encoding":{"x":{"datum":1.0054},"y":{"datum":1.1},"text":{"value":"n"}}},
 {"data":{"values":[{}]},"mark":{"type":"text","fontSize":10,"align":"left","baseline":"middle","dx":5,"dy":1},"encoding":{"x":{"datum":1.0054},"y":{"datum":1.1},"text":{"value":"=48"}}},
 {"data":{"values":[{}]},"mark":{"type":"text","fontSize":11,"align":"center","baseline":"middle"},"encoding":{"x":{"datum":1.0748},"y":{"datum":1.097},"text":{"value":"(b)"}}}
]},
{"width":110,"height":97,"data":{"name":"b"},"layer":[
 {"data":{"values":[{}]},"mark":{"type":"rule","color":"black","strokeWidth":1},"encoding":{"x":{"datum":1},"x2":{"datum":1.208},"y":{"datum":0}}},
 {"mark":{"type":"square","size":7,"color":"black","opacity":1},"encoding":{
  "x":{"field":"P","type":"quantitative","scale":{"domain":[1,1.2245],"nice":false,"zero":false},"axis":{"values":[1,1.04,1.08,1.12,1.16,1.2],"tickCount":20,"format":".2f","labelOverlap":false,"title":null,"offset":-48.5,"domain":false}},
  "y":{"field":"T","type":"quantitative","scale":{"domain":[-1.2,1.2],"nice":false,"zero":false},"axis":{"values":[-1.2,-0.8,-0.4,0,0.4,0.8,1.2],"tickCount":20,"format":".1f","labelOverlap":false,"title":"T","titleX":-27,"titleY":47}}}},
 {"data":{"values":[{}]},"mark":{"type":"text","fontStyle":"italic","fontSize":10,"align":"left","baseline":"middle","dy":1},"encoding":{"x":{"datum":1.012},"y":{"datum":1.2},"text":{"value":"n"}}},
 {"data":{"values":[{}]},"mark":{"type":"text","fontSize":10,"align":"left","baseline":"middle","dx":5,"dy":1},"encoding":{"x":{"datum":1.012},"y":{"datum":1.2},"text":{"value":"=48"}}}
]},
{"width":104,"height":96,"data":{"name":"b"},"layer":[
 {"mark":{"type":"square","size":7,"color":"black","opacity":1},"encoding":{
  "x":{"field":"S","type":"quantitative","scale":{"domain":[1,1.08],"nice":false,"zero":false},"axis":{"values":[1,1.02,1.04,1.06,1.08],"tickCount":20,"format":".2f","labelOverlap":false,"title":null}},
  "y":{"field":"q","type":"quantitative","scale":{"domain":[0,2],"nice":false,"zero":false},"axis":{"values":[0,0.4,0.8,1.2,1.6,2],"tickCount":20,"format":".1f","labelOverlap":false,"title":"q","titleX":-24,"titleY":41}}}},
 {"data":{"values":[{}]},"mark":{"type":"text","fontStyle":"italic","fontSize":10,"align":"left","baseline":"middle","dy":1},"encoding":{"x":{"datum":1.006},"y":{"datum":2},"text":{"value":"n"}}},
 {"data":{"values":[{}]},"mark":{"type":"text","fontSize":10,"align":"left","baseline":"middle","dx":5,"dy":1},"encoding":{"x":{"datum":1.006},"y":{"datum":2},"text":{"value":"=48"}}}
]},
{"width":111,"height":96,"data":{"name":"c"},"layer":[
 {"mark":{"type":"square","size":7,"color":"black","opacity":1},"encoding":{
  "x":{"field":"F","type":"quantitative","scale":{"domain":[1,1.1],"nice":false,"zero":false},"axis":{"values":[1,1.02,1.04,1.06,1.08,1.1],"tickCount":20,"format":".2f","labelOverlap":false,"title":"F","titleX":62,"titleY":18}},
  "y":{"field":"L","type":"quantitative","scale":{"domain":[1,1.1],"nice":false,"zero":false},"axis":{"values":[1,1.02,1.04,1.06,1.08,1.1],"tickCount":20,"format":".2f","labelOverlap":false,"title":"L","titleX":-23,"titleY":43}}}},
 {"data":{"values":[{}]},"mark":{"type":"text","fontStyle":"italic","fontSize":10,"align":"left","baseline":"middle","dy":1},"encoding":{"x":{"datum":1.0045},"y":{"datum":1.097},"text":{"value":"n"}}},
 {"data":{"values":[{}]},"mark":{"type":"text","fontSize":10,"align":"left","baseline":"middle","dx":5,"dy":1},"encoding":{"x":{"datum":1.0045},"y":{"datum":1.097},"text":{"value":"=146"}}},
 {"data":{"values":[{}]},"mark":{"type":"text","fontSize":11,"align":"center","baseline":"middle"},"encoding":{"x":{"datum":1.0766},"y":{"datum":1.0885},"text":{"value":"(c)"}}}
]},
{"width":110,"height":97,"data":{"name":"c"},"layer":[
 {"data":{"values":[{}]},"mark":{"type":"rule","color":"black","strokeWidth":1},"encoding":{"x":{"datum":1},"x2":{"datum":1.208},"y":{"datum":0}}},
 {"mark":{"type":"square","size":7,"color":"black","opacity":1},"encoding":{
  "x":{"field":"P","type":"quantitative","scale":{"domain":[1,1.2245],"nice":false,"zero":false},"axis":{"values":[1,1.04,1.08,1.12,1.16,1.2],"tickCount":20,"format":".2f","labelOverlap":false,"title":"P","titleX":52,"titleY":20,"offset":-48.5,"domain":false}},
  "y":{"field":"T","type":"quantitative","scale":{"domain":[-1.2,1.2],"nice":false,"zero":false},"axis":{"values":[-1.2,-0.8,-0.4,0,0.4,0.8,1.2],"tickCount":20,"format":".1f","labelOverlap":false,"title":"T","titleX":-25,"titleY":49}}}},
 {"data":{"values":[{}]},"mark":{"type":"text","fontStyle":"italic","fontSize":10,"align":"left","baseline":"middle","dy":1},"encoding":{"x":{"datum":1.012},"y":{"datum":1.2},"text":{"value":"n"}}},
 {"data":{"values":[{}]},"mark":{"type":"text","fontSize":10,"align":"left","baseline":"middle","dx":5,"dy":1},"encoding":{"x":{"datum":1.012},"y":{"datum":1.2},"text":{"value":"=146"}}}
]},
{"width":104,"height":96,"data":{"name":"c"},"layer":[
 {"mark":{"type":"square","size":7,"color":"black","opacity":1},"encoding":{
  "x":{"field":"S","type":"quantitative","scale":{"domain":[1,1.08],"nice":false,"zero":false},"axis":{"values":[1,1.02,1.04,1.06,1.08],"tickCount":20,"format":".2f","labelOverlap":false,"title":"Fₛ","titleX":56,"titleY":18}},
  "y":{"field":"q","type":"quantitative","scale":{"domain":[0,2],"nice":false,"zero":false},"axis":{"values":[0,0.4,0.8,1.2,1.6,2],"tickCount":20,"format":".1f","labelOverlap":false,"title":"q","titleX":-22,"titleY":39}}}},
 {"data":{"values":[{}]},"mark":{"type":"text","fontStyle":"italic","fontSize":10,"align":"left","baseline":"middle","dy":1},"encoding":{"x":{"datum":1.006},"y":{"datum":1.96},"text":{"value":"n"}}},
 {"data":{"values":[{}]},"mark":{"type":"text","fontSize":10,"align":"left","baseline":"middle","dx":5,"dy":1},"encoding":{"x":{"datum":1.006},"y":{"datum":1.96},"text":{"value":"=146"}}}
]}
],
"columns":3,
"spacing":{"row":20,"column":29},
"bounds":"flush",
"align":"each"
}
